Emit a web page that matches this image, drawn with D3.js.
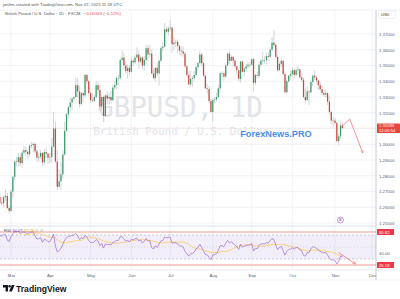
<!DOCTYPE html>
<html><head><meta charset="utf-8">
<script src="https://cdn.jsdelivr.net/npm/d3@7/dist/d3.min.js"></script>
<style>
html,body{margin:0;padding:0;background:#fff;}
svg{display:block;font-family:"Liberation Sans",Arial,sans-serif;}
</style></head>
<body>
<svg id="c" width="400" height="299"></svg>
<script>
// ---------- DATA (GBPUSD daily, FXCM, weekdays from 2025-02-03 to 2025-11-07) ----------
const firstDate = "2025-02-03";
const monthLabels = ["Mar","Apr","May","Jun","Jul","Aug","Sep","Oct","Nov","Dec"];
const priceTicks = [1.25,1.26,1.27,1.28,1.29,1.30,1.31,1.32,1.33,1.34,1.35,1.36,1.37];
const rsiTicks = [40];
const opens = [
/*Feb*/1.2405,1.2405,1.2480,1.2495,1.2440,1.2405,1.2370,1.2450,1.2455,1.2565,1.2585,1.2610,1.2615,1.2590,1.2665,1.2630,1.2625,1.2665,1.2672,1.2595,
/*Mar*/1.2577,1.2700,1.2793,1.2890,1.2887,1.2918,1.2880,1.2947,1.2962,1.2952,1.2937,1.2990,1.2995,1.3002,1.2955,1.2915,1.2920,1.2945,1.2885,1.2950,1.2940,
/*Apr*/1.2915,1.2920,1.2985,1.3100,1.2890,1.2730,1.2765,1.2810,1.2935,1.3085,1.3190,1.3235,1.3265,1.3290,1.3300,1.3375,1.3335,1.3255,1.3325,1.3310,1.3440,1.3400,
/*May*/1.3325,1.3280,1.3275,1.3300,1.3375,1.3345,1.3240,1.3300,1.3180,1.3310,1.3290,1.3300,1.3280,1.3360,1.3375,1.3420,1.3420,1.3535,1.3550,1.3500,1.3465,1.3485,
/*Jun*/1.3460,1.3530,1.3520,1.3550,1.3570,1.3525,1.3550,1.3500,1.3535,1.3610,1.3570,1.3575,1.3450,1.3420,1.3485,1.3450,1.3530,1.3610,1.3620,1.3730,1.3715,
/*Jul*/1.3735,1.3740,1.3635,1.3645,1.3650,1.3625,1.3595,1.3590,1.3575,1.3495,1.3440,1.3380,1.3415,1.3420,1.3440,1.3490,1.3515,1.3570,1.3515,1.3435,1.3355,1.3350,1.3275,
/*Aug*/1.3205,1.3280,1.3285,1.3300,1.3355,1.3450,1.3450,1.3430,1.3500,1.3575,1.3530,1.3555,1.3530,1.3495,1.3470,1.3415,1.3525,1.3460,1.3480,1.3495,1.3505,
/*Sep*/1.3505,1.3540,1.3390,1.3440,1.3435,1.3505,1.3530,1.3535,1.3535,1.3560,1.3555,1.3600,1.3645,1.3630,1.3555,1.3470,1.3510,1.3530,1.3445,1.3330,1.3400,1.3435,
/*Oct*/1.3445,1.3470,1.3440,1.3470,1.3475,1.3425,1.3410,1.3300,1.3280,1.3335,1.3330,1.3395,1.3435,1.3425,1.3405,1.3375,1.3350,1.3325,1.3315,1.3325,1.3270,1.3205,1.3150,
/*Nov*/1.3150,1.3135,1.3020,1.3050,1.3120];
const highs = [
/*Feb*/1.2440,1.2485,1.2550,1.2520,1.2470,1.2420,1.2465,1.2480,1.2565,1.2605,1.2640,1.2635,1.2630,1.2675,1.2690,1.2665,1.2680,1.2715,1.2690,1.2610,
/*Mar*/1.2715,1.2800,1.2900,1.2920,1.2945,1.2935,1.2965,1.2990,1.2985,1.2960,1.3000,1.3015,1.3015,1.3010,1.2970,1.2945,1.2965,1.2950,1.2970,1.2975,1.2945,
/*Apr*/1.2945,1.3040,1.3207,1.3145,1.2965,1.2840,1.2890,1.2960,1.3145,1.3200,1.3250,1.3295,1.3295,1.3305,1.3425,1.3420,1.3370,1.3330,1.3330,1.3445,1.3445,1.3410,
/*May*/1.3335,1.3325,1.3315,1.3400,1.3400,1.3380,1.3310,1.3310,1.3320,1.3335,1.3325,1.3340,1.3380,1.3400,1.3430,1.3445,1.3545,1.3595,1.3580,1.3525,1.3505,1.3505,
/*Jun*/1.3555,1.3545,1.3565,1.3615,1.3595,1.3560,1.3560,1.3560,1.3630,1.3630,1.3630,1.3600,1.3480,1.3490,1.3515,1.3540,1.3625,1.3650,1.3770,1.3750,1.3750,
/*Jul*/1.3788,1.3750,1.3680,1.3665,1.3665,1.3630,1.3620,1.3620,1.3585,1.3505,1.3465,1.3465,1.3435,1.3465,1.3500,1.3525,1.3590,1.3580,1.3520,1.3445,1.3385,1.3370,1.3290,
/*Aug*/1.3290,1.3300,1.3325,1.3375,1.3460,1.3465,1.3460,1.3510,1.3585,1.3595,1.3565,1.3560,1.3540,1.3500,1.3470,1.3530,1.3525,1.3490,1.3510,1.3525,1.3525,
/*Sep*/1.3545,1.3550,1.3450,1.3465,1.3525,1.3545,1.3590,1.3560,1.3580,1.3585,1.3615,1.3680,1.3726,1.3640,1.3565,1.3520,1.3545,1.3535,1.3460,1.3410,1.3440,1.3465,
/*Oct*/1.3490,1.3480,1.3490,1.3495,1.3480,1.3450,1.3420,1.3355,1.3365,1.3345,1.3410,1.3445,1.3470,1.3440,1.3410,1.3395,1.3370,1.3345,1.3340,1.3330,1.3305,1.3215,1.3175,
/*Nov*/1.3165,1.3140,1.3070,1.3145,1.3140];
const lows = [
/*Feb*/1.2250,1.2395,1.2445,1.2355,1.2385,1.2330,1.2350,1.2405,1.2440,1.2545,1.2575,1.2580,1.2550,1.2580,1.2620,1.2610,1.2600,1.2640,1.2588,1.2560,
/*Mar*/1.2570,1.2660,1.2770,1.2860,1.2860,1.2860,1.2850,1.2940,1.2925,1.2910,1.2920,1.2975,1.2950,1.2935,1.2890,1.2885,1.2905,1.2860,1.2870,1.2915,1.2875,
/*Apr*/1.2880,1.2880,1.2980,1.2880,1.2710,1.2725,1.2710,1.2780,1.2925,1.3080,1.3165,1.3200,1.3215,1.3275,1.3300,1.3300,1.3230,1.3245,1.3265,1.3300,1.3385,1.3310,
/*May*/1.3260,1.3265,1.3265,1.3290,1.3320,1.3220,1.3220,1.3140,1.3175,1.3255,1.3250,1.3255,1.3270,1.3345,1.3350,1.3375,1.3410,1.3530,1.3475,1.3450,1.3415,1.3435,
/*Jun*/1.3455,1.3495,1.3510,1.3545,1.3480,1.3515,1.3475,1.3465,1.3510,1.3530,1.3550,1.3445,1.3410,1.3400,1.3435,1.3370,1.3520,1.3590,1.3615,1.3705,1.3690,
/*Jul*/1.3720,1.3580,1.3600,1.3615,1.3580,1.3565,1.3560,1.3555,1.3485,1.3420,1.3375,1.3365,1.3365,1.3405,1.3430,1.3465,1.3510,1.3495,1.3430,1.3350,1.3320,1.3260,1.3200,
/*Aug*/1.3140,1.3260,1.3270,1.3290,1.3325,1.3425,1.3405,1.3420,1.3495,1.3510,1.3525,1.3495,1.3480,1.3440,1.3400,1.3390,1.3455,1.3430,1.3460,1.3480,1.3485,
/*Sep*/1.3500,1.3335,1.3375,1.3415,1.3420,1.3490,1.3505,1.3510,1.3505,1.3530,1.3545,1.3595,1.3610,1.3540,1.3460,1.3465,1.3490,1.3440,1.3325,1.3325,1.3390,1.3410,
/*Oct*/1.3425,1.3420,1.3430,1.3440,1.3415,1.3395,1.3290,1.3260,1.3275,1.3250,1.3320,1.3370,1.3410,1.3390,1.3345,1.3335,1.3310,1.3300,1.3300,1.3250,1.3190,1.3125,1.3110,
/*Nov*/1.3125,1.3010,1.2995,1.3035,1.3095];
const closes = [
/*Feb*/1.2405,1.2480,1.2495,1.2440,1.2405,1.2370,1.2450,1.2455,1.2565,1.2585,1.2610,1.2615,1.2590,1.2665,1.2630,1.2625,1.2665,1.2672,1.2595,1.2577,
/*Mar*/1.2700,1.2793,1.2890,1.2887,1.2918,1.2880,1.2947,1.2962,1.2952,1.2937,1.2990,1.2995,1.3002,1.2955,1.2915,1.2920,1.2945,1.2885,1.2950,1.2940,1.2915,
/*Apr*/1.2920,1.2985,1.3100,1.2890,1.2730,1.2765,1.2810,1.2935,1.3085,1.3190,1.3235,1.3265,1.3290,1.3300,1.3375,1.3335,1.3255,1.3325,1.3310,1.3440,1.3400,1.3325,
/*May*/1.3280,1.3275,1.3300,1.3375,1.3345,1.3240,1.3300,1.3180,1.3310,1.3290,1.3300,1.3280,1.3360,1.3375,1.3420,1.3420,1.3535,1.3550,1.3500,1.3465,1.3485,1.3460,
/*Jun*/1.3530,1.3520,1.3550,1.3570,1.3525,1.3550,1.3500,1.3535,1.3610,1.3570,1.3575,1.3450,1.3420,1.3485,1.3450,1.3530,1.3610,1.3620,1.3730,1.3715,1.3735,
/*Jul*/1.3740,1.3635,1.3645,1.3650,1.3625,1.3595,1.3590,1.3575,1.3495,1.3440,1.3380,1.3415,1.3420,1.3440,1.3490,1.3515,1.3570,1.3515,1.3435,1.3355,1.3350,1.3275,1.3205,
/*Aug*/1.3280,1.3285,1.3300,1.3355,1.3450,1.3450,1.3430,1.3500,1.3575,1.3530,1.3555,1.3530,1.3495,1.3470,1.3415,1.3525,1.3460,1.3480,1.3495,1.3505,1.3505,
/*Sep*/1.3540,1.3390,1.3440,1.3435,1.3505,1.3530,1.3535,1.3535,1.3560,1.3555,1.3600,1.3645,1.3630,1.3555,1.3470,1.3510,1.3530,1.3445,1.3330,1.3400,1.3435,1.3445,
/*Oct*/1.3470,1.3440,1.3470,1.3475,1.3425,1.3410,1.3300,1.3280,1.3335,1.3330,1.3395,1.3435,1.3425,1.3405,1.3375,1.3350,1.3325,1.3315,1.3325,1.3270,1.3205,1.3150,1.3150,
/*Nov*/1.3135,1.3020,1.3050,1.3120,1.3103];
// drawn annotation arrows: [bars after last candle, value]
const priceArrow = [[0,1.3117],[4,1.3160],[11,1.2945]];
const rsiArrow = [[-2,40.5],[7,22]];
const lastPriceLabel = "1.31033";
const countdownLabel = "12:00:54";
const changeText = "\u22120.00163 (\u22120.12%)";
const rsiLevels = [{v:75, label:"80.82"},{v:20, label:"26.18"}];

// ---------- DERIVED ----------
const n = closes.length;
const days = [];
{ let t = Date.parse(firstDate+"T00:00:00Z");
  const end = Date.parse("2025-12-31T00:00:00Z");
  while (t <= end) { const dd = new Date(t); const w = dd.getUTCDay(); if (w!==0 && w!==6) days.push(dd); t += 864e5; } }
const tickIdx = [];
for (let m = 2; m <= 11; m++) tickIdx.push(days.findIndex(d => d.getUTCMonth() === m));

// RSI 14 (Wilder) + SMA 14
const rsi = new Array(n).fill(null);
{ let ag=0, al=0;
  for (let i=1;i<=14;i++){ const ch=closes[i]-closes[i-1]; ag+=Math.max(ch,0); al+=Math.max(-ch,0);} ag/=14; al/=14;
  rsi[14]=100-100/(1+ag/al);
  for (let i=15;i<n;i++){ const ch=closes[i]-closes[i-1]; ag=(ag*13+Math.max(ch,0))/14; al=(al*13+Math.max(-ch,0))/14; rsi[i]= al===0?100:100-100/(1+ag/al);} }
const rsiMa = rsi.map((v,i)=>{ if(i<27) return null; let s=0; for(let k=i-13;k<=i;k++) s+=rsi[k]; return s/14; });

// ---------- LAYOUT ----------
const svg = d3.select("#c");
const plotR = 376, mainTop = 10, mainBot = 226, rsiBot = 270, axisBot = 280;
const x = d3.scaleLinear().domain([tickIdx[0], tickIdx[9]]).range([11, 372]);
const y = d3.scaleLinear().domain([1.25, 1.37]).range([223, 34]);
const yr = d3.scaleLinear().domain([30, 70]).range([259, 235]);

svg.append("rect").attr("width",400).attr("height",299).attr("fill","#fff");
const defs = svg.append("defs");
defs.append("clipPath").attr("id","cm").append("rect").attr("x",0).attr("y",mainTop).attr("width",plotR).attr("height",mainBot-mainTop);
defs.append("clipPath").attr("id","cr").append("rect").attr("x",0).attr("y",mainBot).attr("width",plotR).attr("height",rsiBot-mainBot);
defs.append("marker").attr("id","ah").attr("viewBox","0 0 10 10").attr("refX",8).attr("refY",5)
  .attr("markerWidth",5).attr("markerHeight",5).attr("orient","auto-start-reverse")
  .append("path").attr("d","M0,1 L9,5 L0,9").attr("fill","none").attr("stroke","#f0616d").attr("stroke-width",1.4);

// grid
const grid = svg.append("g");
grid.selectAll("line.h").data(priceTicks).join("line")
  .attr("x1",0).attr("x2",plotR).attr("y1",d=>y(d)).attr("y2",d=>y(d)).attr("stroke","#eef0f4").attr("stroke-width",0.8);
grid.selectAll("line.v").data(tickIdx).join("line")
  .attr("x1",d=>x(d)).attr("x2",d=>x(d)).attr("y1",mainTop).attr("y2",rsiBot).attr("stroke","#eef0f4").attr("stroke-width",0.8);

// frame lines
svg.append("line").attr("x1",0).attr("x2",400).attr("y1",mainTop).attr("y2",mainTop).attr("stroke","#e6e8ec").attr("stroke-width",0.6);
svg.append("line").attr("x1",0).attr("x2",plotR).attr("y1",mainBot).attr("y2",mainBot).attr("stroke","#d8dbe1").attr("stroke-width",0.8);
svg.append("line").attr("x1",0).attr("x2",400).attr("y1",rsiBot).attr("y2",rsiBot).attr("stroke","#d8dbe1").attr("stroke-width",0.6);
svg.append("line").attr("x1",0).attr("x2",400).attr("y1",axisBot).attr("y2",axisBot).attr("stroke","#e6e8ec").attr("stroke-width",0.6);
svg.append("line").attr("x1",plotR).attr("x2",plotR).attr("y1",mainTop).attr("y2",axisBot).attr("stroke","#b8bcc4").attr("stroke-width",0.8);

// watermark
svg.append("text").attr("x",180).attr("y",117).attr("text-anchor","middle")
  .attr("font-family","'DejaVu Sans Mono',monospace").attr("font-size",27.5).attr("fill","#e3e4e8").text("GBPUSD, 1D");
svg.append("text").attr("x",181).attr("y",135).attr("text-anchor","middle")
  .attr("font-family","'DejaVu Sans Mono',monospace").attr("font-size",10.8).attr("fill","#e3e4e8").text("British Pound / U.S. Dollar");

// last price line
svg.append("line").attr("x1",0).attr("x2",plotR).attr("y1",y(closes[n-1])).attr("y2",y(closes[n-1]))
  .attr("stroke","#f7b3b9").attr("stroke-width",0.5).attr("stroke-dasharray","1,1.5");

// candles
const cg = svg.append("g").attr("clip-path","url(#cm)");
const idx = d3.range(n);
const up = i => closes[i] >= opens[i];
cg.selectAll("line.w").data(idx).join("line")
  .attr("x1",i=>x(i)).attr("x2",i=>x(i)).attr("y1",i=>y(highs[i])).attr("y2",i=>y(lows[i]))
  .attr("stroke","#a9adb5").attr("stroke-width",0.5);
const bw = 1.25;
cg.selectAll("rect.b").data(idx).join("rect")
  .attr("x",i=>x(i)-bw/2).attr("width",bw)
  .attr("y",i=>y(Math.max(opens[i],closes[i])))
  .attr("height",i=>Math.max(0.5, Math.abs(y(opens[i])-y(closes[i]))))
  .attr("fill",i=>up(i)?"#3d9b6a":"#c8493c");

// ForexNews
svg.append("text").attr("x",276).attr("y",136.5).attr("text-anchor","middle")
  .attr("font-size",9.2).attr("font-weight","bold").attr("fill","#4b8df0").text("ForexNews.PRO");

// price arrow
const last = n-1;
svg.append("path").attr("d", d3.line()(priceArrow.map(p=>[x(last+p[0]), y(p[1])])))
  .attr("fill","none").attr("stroke","#f0616d").attr("stroke-width",0.7).attr("marker-end","url(#ah)");

// purple icon
const ic = svg.append("g").attr("transform",`translate(${x(last-1)},220)`);
ic.append("circle").attr("r",3).attr("fill","#fff").attr("stroke","#b36bd4").attr("stroke-width",0.7);
ic.append("text").attr("y",1.4).attr("text-anchor","middle").attr("font-size",4).attr("fill","#b36bd4").attr("font-weight","bold").text("E");

// price axis (labels hidden where the last-price label sits)
const ly = y(closes[n-1]);
const pa = svg.append("g").attr("transform",`translate(${plotR+3},0)`)
  .call(d3.axisRight(y).tickValues(priceTicks.filter(t=>Math.abs(y(t)-ly)>6)).tickFormat(d3.format(".5f")).tickSize(0).tickPadding(0));
pa.select(".domain").remove();
pa.selectAll("text").attr("font-size",4.3).attr("fill","#5d606b").attr("font-family","'Liberation Sans',Arial,sans-serif");

// USD box
svg.append("rect").attr("x",378.5).attr("y",11).attr("width",17).attr("height",7.5).attr("rx",1).attr("fill","#fff").attr("stroke","#e0e3eb").attr("stroke-width",0.5);
svg.append("text").attr("x",381).attr("y",16.2).attr("font-size",4).attr("fill","#333").text("USD");

// last price label
svg.append("rect").attr("x",plotR+1).attr("y",ly-4.5).attr("width",23).attr("height",9.5).attr("fill","#e8473f").attr("rx",0.6);
svg.append("text").attr("x",plotR+3).attr("y",ly-0.6).attr("font-size",4.2).attr("fill","#fff").text(lastPriceLabel);
svg.append("text").attr("x",plotR+3).attr("y",ly+3.8).attr("font-size",4.2).attr("fill","#fff").text(countdownLabel);

// ---------- RSI pane ----------
const rg = svg.append("g").attr("clip-path","url(#cr)");
rg.append("rect").attr("x",0).attr("width",plotR).attr("y",yr(70)).attr("height",yr(30)-yr(70)).attr("fill","#7e57c2").attr("opacity",0.1);
[70,30].forEach(v=> rg.append("line").attr("x1",0).attr("x2",plotR).attr("y1",yr(v)).attr("y2",yr(v))
  .attr("stroke","#9598a1").attr("stroke-width",0.5).attr("stroke-dasharray","2,2"));
rg.append("line").attr("x1",0).attr("x2",plotR).attr("y1",yr(50)).attr("y2",yr(50))
  .attr("stroke","#b2b5be").attr("stroke-width",0.4).attr("stroke-dasharray","1,2");
rsiLevels.forEach(l=> rg.append("line").attr("x1",0).attr("x2",plotR).attr("y1",yr(l.v)).attr("y2",yr(l.v))
  .attr("stroke","#ee7b7b").attr("stroke-width",0.8));
rg.append("path").attr("d", d3.line().defined(i=>rsiMa[i]!==null).x(i=>x(i)).y(i=>yr(rsiMa[i]))(idx))
  .attr("fill","none").attr("stroke","#f6c744").attr("stroke-width",0.7);
rg.append("path").attr("d", d3.line().defined(i=>rsi[i]!==null).x(i=>x(i)).y(i=>yr(rsi[i]))(idx))
  .attr("fill","none").attr("stroke","#a36fd6").attr("stroke-width",0.75);
svg.append("path").attr("d", d3.line()(rsiArrow.map(p=>[x(last+p[0]), yr(p[1])])))
  .attr("fill","none").attr("stroke","#f0616d").attr("stroke-width",0.7).attr("marker-end","url(#ah)");

// rsi axis
const ra = svg.append("g").attr("transform",`translate(${plotR+3},0)`)
  .call(d3.axisRight(yr).tickValues(rsiTicks).tickFormat(d3.format(".2f")).tickSize(0).tickPadding(0));
ra.select(".domain").remove();
ra.selectAll("text").attr("font-size",4.3).attr("fill","#5d606b");
rsiLevels.forEach(l=>{
  svg.append("rect").attr("x",plotR+1).attr("y",yr(l.v)-3).attr("width",17).attr("height",6).attr("fill","#f23645");
  svg.append("text").attr("x",plotR+3).attr("y",yr(l.v)+1.5).attr("font-size",4.2).attr("fill","#fff").text(l.label);
});

// rsi legend
const rl = svg.append("text").attr("x",4).attr("y",231.5).attr("font-size",4.2);
rl.append("tspan").attr("fill","#555").text("RSI  ");
rl.append("tspan").attr("fill","#8e44ad").text(d3.format(".2f")(rsi[n-1])+"  ");
rl.append("tspan").attr("fill","#e6a800").text(d3.format(".2f")(rsiMa[n-1])+"  ");
rl.append("tspan").attr("fill","#999").text("\u2205 \u2205");

// time axis
const ta = svg.append("g").attr("transform",`translate(0,${rsiBot+1})`)
  .call(d3.axisBottom(x).tickValues(tickIdx).tickFormat((d,i)=>monthLabels[i]).tickSize(0).tickPadding(3));
ta.select(".domain").remove();
ta.selectAll("text").attr("font-size",4.3).attr("fill","#5d606b");

// header
svg.append("text").attr("x",3).attr("y",5.5).attr("font-size",4.3).attr("fill","#555")
  .text("jonfim created with TradingView.com, Nov 07, 2025 11:59 UTC");
const hd = svg.append("text").attr("x",5).attr("y",15).attr("font-size",4.3);
hd.append("tspan").attr("fill","#555").text("British Pound / U.S. Dollar \u00b7 1D \u00b7 FXCM \u00b7 ");
hd.append("tspan").attr("fill","#e8473f").text(changeText);

// TradingView logo
const lg = svg.append("g").attr("transform","translate(3,285)");
lg.append("path").attr("d","M0,0 H5 V6.5 H2.6 V2.4 H0 Z").attr("fill","#131722");
lg.append("circle").attr("cx",6.6).attr("cy",1.2).attr("r",1.2).attr("fill","#131722");
lg.append("path").attr("d","M8.8,0 H11.6 L8.9,6.5 H6.1 Z").attr("fill","#131722");
svg.append("text").attr("x",16).attr("y",291.8).attr("font-size",8.6).attr("font-weight","bold").attr("fill","#131722").text("TradingView");
</script>
</body></html>
